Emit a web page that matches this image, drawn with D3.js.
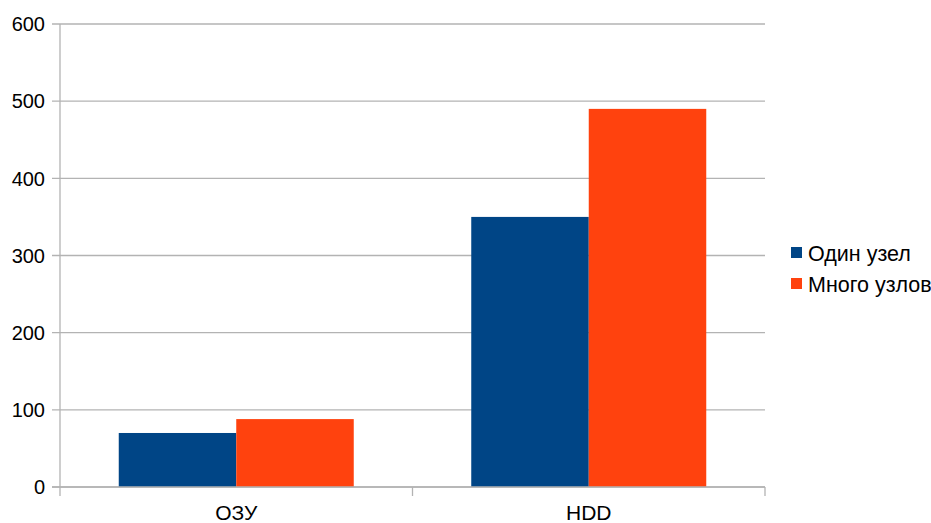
<!DOCTYPE html>
<html>
<head>
<meta charset="utf-8">
<script src="https://cdn.jsdelivr.net/npm/d3@7"></script>
<style>
  html, body { margin: 0; padding: 0; background: #fff; }
  svg { display: block; font-family: "Liberation Sans", Arial, sans-serif; }
</style>
</head>
<body>
<svg id="chart" width="931" height="523"></svg>
<script>
// Data
const categories = ["ОЗУ", "HDD"];
const seriesNames = ["Один узел", "Много узлов"];
const singleNode = [70, 350];
const manyNodes = [88, 490];
const yTicks = [0, 100, 200, 300, 400, 500, 600];
const colors = ["#004586", "#ff420e"];

const svg = d3.select("#chart");
const plotLeft = 60, plotRight = 765, plotTop = 24, plotBottom = 487;

const x = d3.scaleBand()
  .domain(categories)
  .range([plotLeft, plotRight])
  .paddingInner(1 / 3)
  .paddingOuter(1 / 6);

const xs = d3.scaleBand()
  .domain(seriesNames)
  .range([0, x.bandwidth()]);

const y = d3.scaleLinear().domain([0, 600]).range([plotBottom, plotTop]);

const gridColor = "#b3b3b3";

// Horizontal grid lines with short tick stubs to the left
svg.append("g")
  .selectAll("line")
  .data(yTicks)
  .join("line")
  .attr("x1", plotLeft - 8)
  .attr("x2", plotRight)
  .attr("y1", d => y(d))
  .attr("y2", d => y(d))
  .attr("stroke", gridColor)
  .attr("stroke-width", 1.3);

// Y axis line
svg.append("line")
  .attr("x1", plotLeft).attr("x2", plotLeft)
  .attr("y1", plotTop).attr("y2", plotBottom + 9)
  .attr("stroke", gridColor).attr("stroke-width", 1.3);

// Category separator ticks on the x axis
const step = x.step();
const sepX = categories.map(c => x(c) - x.paddingOuter() * step + step);
svg.append("g")
  .selectAll("line")
  .data(sepX)
  .join("line")
  .attr("x1", d => d).attr("x2", d => d)
  .attr("y1", plotBottom).attr("y2", plotBottom + 9)
  .attr("stroke", gridColor).attr("stroke-width", 1.3);

// Bars
const rows = categories.map((c, i) => ({ cat: c, values: [singleNode[i], manyNodes[i]] }));
svg.append("g")
  .selectAll("g")
  .data(rows)
  .join("g")
  .attr("transform", d => `translate(${x(d.cat)},0)`)
  .selectAll("rect")
  .data(d => d.values.map((v, j) => ({ v, j })))
  .join("rect")
  .attr("x", d => xs(seriesNames[d.j]))
  .attr("width", xs.bandwidth())
  .attr("y", d => y(d.v))
  .attr("height", d => y(0) - y(d.v))
  .attr("fill", d => colors[d.j]);

// Redraw the baseline over the bars
svg.append("line")
  .attr("x1", plotLeft - 8).attr("x2", plotRight)
  .attr("y1", y(0)).attr("y2", y(0))
  .attr("stroke", gridColor).attr("stroke-width", 1.3);

// Y tick labels
svg.append("g")
  .selectAll("text")
  .data(yTicks)
  .join("text")
  .attr("x", 45)
  .attr("y", d => y(d))
  .attr("dy", "0.36em")
  .attr("text-anchor", "end")
  .attr("font-size", 20)
  .attr("fill", "#000")
  .text(d => d);

// X category labels
svg.append("g")
  .selectAll("text")
  .data(categories)
  .join("text")
  .attr("x", d => x(d) + x.bandwidth() / 2)
  .attr("y", 520)
  .attr("text-anchor", "middle")
  .attr("font-size", 21)
  .attr("fill", "#000")
  .text(d => d);

// Legend
const legend = svg.append("g")
  .selectAll("g")
  .data(seriesNames)
  .join("g")
  .attr("transform", (d, i) => `translate(791,${253 + i * 31})`);
legend.append("rect")
  .attr("x", 0).attr("y", -6)
  .attr("width", 11).attr("height", 11)
  .attr("fill", (d, i) => colors[i]);
legend.append("text")
  .attr("x", 17)
  .attr("y", 0)
  .attr("dy", "0.36em")
  .attr("font-size", 21.5)
  .attr("fill", "#000")
  .text(d => d);
</script>
</body>
</html>
